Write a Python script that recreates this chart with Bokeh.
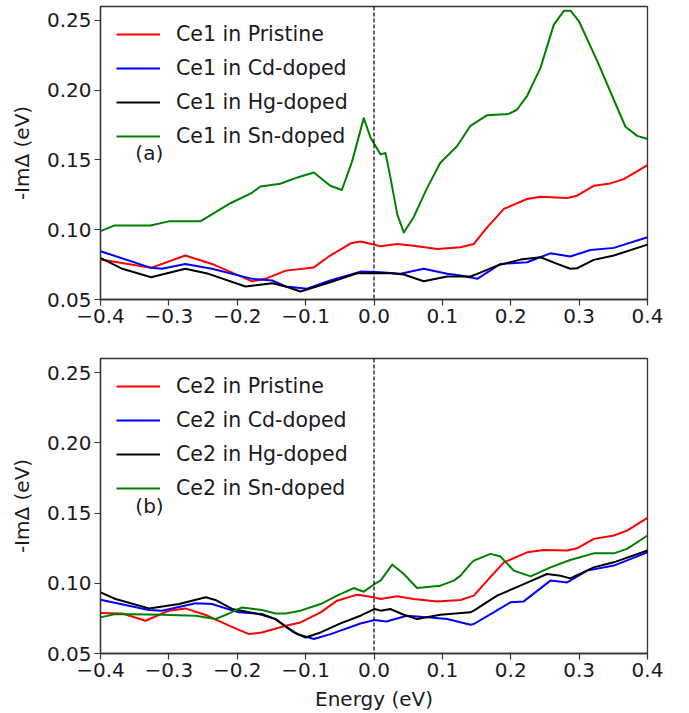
from bokeh.plotting import figure
from bokeh.layouts import column
from bokeh.models import Legend, LegendItem, Span, Label, FixedTicker, CustomJSTickFormatter, PrintfTickFormatter
from bokeh.embed import file_html
from bokeh.resources import INLINE

# ---------------- data ----------------
# Panel (a): Ce1
a_pristine_x = [-0.4, -0.326, -0.276, -0.237, -0.178, -0.159, -0.129, -0.088, -0.064, -0.034, -0.0196, 0.001, 0.0096, 0.034, 0.058, 0.0925, 0.1265, 0.146, 0.1655, 0.19, 0.224, 0.2435, 0.2825, 0.297, 0.3214, 0.3458, 0.3653, 0.4]
a_pristine_y = [0.0786, 0.0727, 0.0815, 0.0755, 0.063, 0.0648, 0.0707, 0.073, 0.0815, 0.0903, 0.0915, 0.0893, 0.0881, 0.0898, 0.0886, 0.0862, 0.0874, 0.0898, 0.1017, 0.1149, 0.122, 0.1237, 0.1227, 0.1244, 0.1315, 0.1332, 0.1363, 0.1463]

a_cd_x = [-0.4, -0.326, -0.31, -0.276, -0.237, -0.178, -0.149, -0.129, -0.098, -0.064, -0.0197, 0.0096, 0.0388, 0.0727, 0.107, 0.1265, 0.151, 0.185, 0.224, 0.258, 0.287, 0.3166, 0.3507, 0.4]
a_cd_y = [0.0846, 0.0727, 0.072, 0.0755, 0.072, 0.0648, 0.0636, 0.0593, 0.0577, 0.0636, 0.070, 0.0695, 0.0684, 0.072, 0.0684, 0.0672, 0.0648, 0.0755, 0.0767, 0.0831, 0.0808, 0.0855, 0.087, 0.0946]

a_hg_x = [-0.4, -0.368, -0.326, -0.276, -0.242, -0.188, -0.149, -0.129, -0.1075, -0.064, -0.0246, 0.024, 0.0436, 0.0727, 0.107, 0.141, 0.151, 0.18, 0.214, 0.2435, 0.268, 0.287, 0.297, 0.3214, 0.3507, 0.4]
a_hg_y = [0.0798, 0.072, 0.066, 0.072, 0.0684, 0.0593, 0.0617, 0.0593, 0.0557, 0.0624, 0.0688, 0.0688, 0.0679, 0.0631, 0.0665, 0.0665, 0.0684, 0.0743, 0.0786, 0.0803, 0.0755, 0.072, 0.0724, 0.0784, 0.0815, 0.0893]

a_sn_x = [-0.4, -0.38, -0.327, -0.3, -0.254, -0.21, -0.18, -0.166, -0.137, -0.112, -0.088, -0.064, -0.047, -0.032, -0.015, -0.005, 0.001, 0.0096, 0.0168, 0.024, 0.034, 0.0436, 0.058, 0.0777, 0.097, 0.1217, 0.141, 0.165, 0.197, 0.209, 0.224, 0.2435, 0.263, 0.278, 0.2874, 0.2996, 0.3264, 0.3556, 0.3678, 0.385, 0.4]
a_sn_y = [0.099, 0.103, 0.103, 0.106, 0.106, 0.119, 0.126, 0.131, 0.133, 0.1375, 0.141, 0.1315, 0.1285, 0.149, 0.180, 0.166, 0.161, 0.154, 0.155, 0.1375, 0.111, 0.098, 0.109, 0.130, 0.148, 0.160, 0.1745, 0.182, 0.183, 0.186, 0.196, 0.216, 0.247, 0.257, 0.257, 0.2496, 0.221, 0.1876, 0.1738, 0.1673, 0.165]

# Panel (b): Ce2
b_pristine_x = [-0.4, -0.368, -0.334, -0.3, -0.276, -0.246, -0.212, -0.183, -0.164, -0.129, -0.1075, -0.078, -0.054, -0.0246, -0.0006, 0.0096, 0.034, 0.058, 0.0925, 0.1265, 0.146, 0.1655, 0.19, 0.224, 0.248, 0.2825, 0.297, 0.3214, 0.3507, 0.37, 0.4]
b_pristine_y = [0.0788, 0.0785, 0.0733, 0.0805, 0.0821, 0.0774, 0.0698, 0.0638, 0.065, 0.0698, 0.0721, 0.0793, 0.0876, 0.0919, 0.090, 0.0888, 0.0907, 0.0888, 0.0871, 0.0881, 0.0912, 0.1019, 0.1149, 0.122, 0.1237, 0.1233, 0.1249, 0.1316, 0.134, 0.1375, 0.1466]

b_cd_x = [-0.4, -0.329, -0.31, -0.261, -0.237, -0.198, -0.164, -0.144, -0.137, -0.112, -0.088, -0.0636, -0.0197, 0.001, 0.018, 0.048, 0.082, 0.107, 0.141, 0.146, 0.175, 0.1996, 0.219, 0.258, 0.2825, 0.3117, 0.3507, 0.4]
b_cd_y = [0.0883, 0.081, 0.0805, 0.0857, 0.0852, 0.0793, 0.0781, 0.0745, 0.0721, 0.0638, 0.0603, 0.0638, 0.0714, 0.0738, 0.0728, 0.0769, 0.0757, 0.0745, 0.0705, 0.071, 0.0793, 0.0864, 0.0871, 0.1019, 0.1006, 0.109, 0.1126, 0.122]

b_hg_x = [-0.4, -0.378, -0.329, -0.285, -0.246, -0.232, -0.2075, -0.164, -0.144, -0.129, -0.117, -0.1, -0.078, -0.049, -0.0197, 0.001, 0.0096, 0.024, 0.0436, 0.063, 0.097, 0.141, 0.146, 0.18, 0.214, 0.253, 0.2728, 0.287, 0.3214, 0.3507, 0.4]
b_hg_y = [0.0935, 0.0888, 0.0821, 0.0852, 0.090, 0.0881, 0.0817, 0.0776, 0.0745, 0.069, 0.065, 0.0614, 0.065, 0.0714, 0.0769, 0.0817, 0.0805, 0.0817, 0.0776, 0.0745, 0.0776, 0.0793, 0.0805, 0.0912, 0.0983, 0.1066, 0.1054, 0.1035, 0.1113, 0.1149, 0.1233]

b_sn_x = [-0.4, -0.378, -0.31, -0.261, -0.232, -0.212, -0.193, -0.164, -0.144, -0.129, -0.1075, -0.078, -0.054, -0.0296, -0.015, 0.001, 0.0096, 0.0266, 0.0436, 0.063, 0.097, 0.1167, 0.1265, 0.141, 0.146, 0.1704, 0.185, 0.2045, 0.229, 0.258, 0.287, 0.3214, 0.3507, 0.37, 0.4]
b_sn_y = [0.0757, 0.0781, 0.0776, 0.0769, 0.0745, 0.0785, 0.0828, 0.081, 0.0785, 0.0785, 0.0805, 0.0852, 0.0912, 0.0966, 0.094, 0.0995, 0.1019, 0.1133, 0.1066, 0.0966, 0.0983, 0.1019, 0.1054, 0.1138, 0.1161, 0.1209, 0.119, 0.109, 0.1049, 0.1113, 0.1166, 0.1213, 0.1213, 0.1245, 0.134]

x_ticks = [-0.4, -0.3, -0.2, -0.1, 0.0, 0.1, 0.2, 0.3, 0.4]
y_ticks = [0.05, 0.10, 0.15, 0.20, 0.25]
labels_a = ["Ce1 in Pristine", "Ce1 in Cd-doped", "Ce1 in Hg-doped", "Ce1 in Sn-doped"]
labels_b = ["Ce2 in Pristine", "Ce2 in Cd-doped", "Ce2 in Hg-doped", "Ce2 in Sn-doped"]
colors = ["#ff0000", "#0000ff", "#000000", "#008000"]

FONT = "DejaVu Sans"
FS = "20px"
LFS = "20.5px"
TXT = "#1a1a1a"


def make_panel(series, labels, tag, height, top, bottom, xlabel):
    p = figure(width=689, height=height, x_range=(-0.4, 0.4), y_range=(0.05, 0.26),
               output_backend="svg", toolbar_location=None,
               min_border_left=100, min_border_right=42,
               min_border_top=top, min_border_bottom=bottom)
    p.xgrid.visible = False
    p.ygrid.visible = False
    p.outline_line_color = "#333333"
    p.outline_line_width = 1.3
    p.background_fill_color = "white"
    p.border_fill_color = "white"

    items = []
    for (xs, ys), lab, col in zip(series, labels, colors):
        r = p.line(xs, ys, line_color=col, line_width=2, line_join="round")
        items.append(LegendItem(label=lab, renderers=[r]))

    p.add_layout(Span(location=0, dimension="height", line_color="black",
                      line_dash="4 2", line_width=1.2))

    leg = Legend(items=items, location="top_left")
    leg.border_line_alpha = 0
    leg.background_fill_alpha = 0
    leg.label_text_font = FONT
    leg.label_text_font_size = LFS
    leg.label_text_color = TXT
    leg.glyph_width = 44
    leg.glyph_height = 20
    leg.label_height = 20
    leg.label_standoff = 16
    leg.spacing = 10
    leg.padding = 8
    leg.margin = 8
    p.add_layout(leg)

    p.add_layout(Label(x=-0.349, y=0.155, text=tag, text_font=FONT, text_font_size=FS,
                       text_color=TXT, text_baseline="middle", text_align="left"))

    for ax in (p.xaxis[0], p.yaxis[0]):
        ax.major_label_text_font = FONT
        ax.major_label_text_font_size = FS
        ax.major_label_text_color = TXT
        ax.axis_label_text_font = FONT
        ax.axis_label_text_font_size = FS
        ax.axis_label_text_font_style = "normal"
        ax.axis_label_text_color = TXT
        ax.axis_line_color = "#333333"
        ax.axis_line_width = 1.3
        ax.major_tick_line_color = "#333333"
        ax.major_tick_line_width = 1.2
        ax.major_tick_out = 6
        ax.major_tick_in = 0
        ax.minor_tick_line_color = None
        ax.major_label_standoff = 3

    p.xaxis[0].ticker = FixedTicker(ticks=x_ticks)
    p.xaxis[0].formatter = CustomJSTickFormatter(
        code="return (tick < -1e-9 ? '\u2212' : '') + Math.abs(tick).toFixed(1);")
    p.yaxis[0].ticker = FixedTicker(ticks=y_ticks)
    p.yaxis[0].formatter = PrintfTickFormatter(format="%.2f")
    p.yaxis[0].axis_label = "-ImΔ (eV)"
    p.yaxis[0].axis_label_standoff = 10
    if xlabel:
        p.xaxis[0].axis_label = xlabel
        p.xaxis[0].axis_label_standoff = 7
    return p


pa = make_panel([(a_pristine_x, a_pristine_y), (a_cd_x, a_cd_y), (a_hg_x, a_hg_y), (a_sn_x, a_sn_y)],
                labels_a, "(a)", 338, 6, 39, None)
pb = make_panel([(b_pristine_x, b_pristine_y), (b_cd_x, b_cd_y), (b_hg_x, b_hg_y), (b_sn_x, b_sn_y)],
                labels_b, "(b)", 375, 20, 60, "Energy (eV)")

layout = column(pa, pb, spacing=0)
open("out.html", "w").write(file_html(layout, INLINE))
